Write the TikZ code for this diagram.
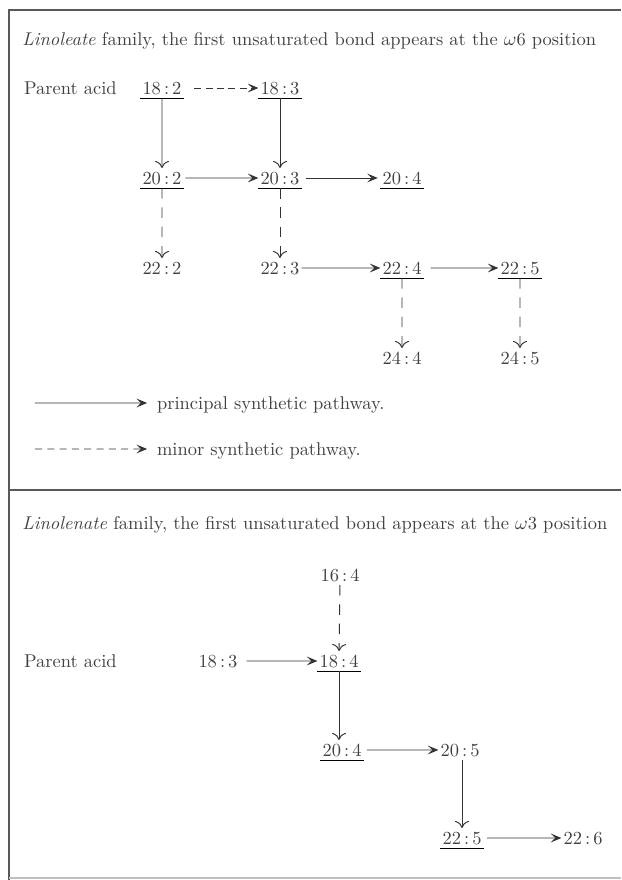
\documentclass[tikz,border=0pt]{standalone}
\usetikzlibrary{arrows.meta}
\begin{document}
\begin{tikzpicture}[scale=0.2,
	acid/.style={inner xsep=1pt, inner ysep=2pt, text height=7pt, text depth=0pt},
	under/.style={append after command={(\tikzlastnode.south west) edge [line width=0.5pt] (\tikzlastnode.south east)}},
	hmain/.style={draw=black!80, line width=0.55pt, -{Stealth[length=6pt,width=5pt,inset=2.5pt]}},
	hminor/.style={hmain, dash pattern=on 4pt off 2.5pt},
	vmain/.style={draw=black!80, line width=0.55pt, -{To[length=4pt,width=8pt]}},
	vminor/.style={vmain, dash pattern=on 6pt off 5pt}]
		\tikzstyle{every node}+=[inner sep=0pt, text=black!75, font=\fontsize{10.5}{12.6}\selectfont]
		\useasboundingbox (0,0) rectangle (62.1,-88);
		\draw [black!65, line width=0.8pt] (62.1,-1) -- (0.9,-1) -- (0.9,-88);
		\draw [black!65, line width=0.8pt] (0.9,-49) -- (62.1,-49);
		\draw [black!25, line width=0.6pt] (0.9,-87.8) -- (62.1,-87.8);
		\node [anchor=west] (head1) at (2.2,-4.1) {\textit{Linoleate} family, the first unsaturated bond appears at the $\omega$6 position};
		\node [acid, anchor=west] (parent1) at (2.2,-8.8) {Parent acid};
		\node [acid, under] (a182) at (16.2,-8.8) {18\,:\,2};
		\node [acid, under] (a183) at (28.0,-8.8) {18\,:\,3};
		\node [acid, under] (a202) at (16.2,-17.8) {20\,:\,2};
		\node [acid, under] (a203) at (28.0,-17.8) {20\,:\,3};
		\node [acid, under] (a204) at (40.2,-17.8) {20\,:\,4};
		\node [acid] (a222) at (16.2,-26.8) {22\,:\,2};
		\node [acid] (a223) at (28.0,-26.8) {22\,:\,3};
		\node [acid, under] (a224) at (40.2,-26.8) {22\,:\,4};
		\node [acid, under] (a225) at (52.0,-26.8) {22\,:\,5};
		\node [acid] (a244) at (40.2,-35.8) {24\,:\,4};
		\node [acid] (a245) at (52.0,-35.8) {24\,:\,5};
		\draw [hminor, shorten <=6pt] (a182) -- (a183);
		\draw [vmain] (a182) -- (a202);
		\draw [vmain] (a183) -- (a203);
		\draw [hmain, shorten <=1pt] (a202) -- (a203);
		\draw [hmain, shorten <=2.5pt, shorten >=1.5pt] (a203) -- (a204);
		\draw [vminor] (a202) -- (a222);
		\draw [vminor] (a203) -- (a223);
		\draw [hmain] (a223) -- (a224);
		\draw [hmain, shorten <=4pt] (a224) -- (a225);
		\draw [vminor] (a224) -- (a244);
		\draw [vminor] (a225) -- (a245);
		\coordinate (k1) at (3.5,-40.3);
		\coordinate (k2) at (3.5,-44.9);
		\node [acid, anchor=west] (key1) at (15.5,-40.3) {principal synthetic pathway.};
		\node [acid, anchor=west] (key2) at (15.5,-44.9) {minor synthetic pathway.};
		\draw [hmain, shorten >=4.5pt] (k1) -- (key1);
		\draw [hminor, dash pattern=on 4pt off 3pt, shorten >=4.5pt] (k2) -- (key2);
		\node [anchor=west] (head2) at (2.2,-52.5) {\textit{Linolenate} family, the first unsaturated bond appears at the $\omega$3 position};
		\node [acid] (b164) at (34.0,-57.5) {16\,:\,4};
		\node [acid, anchor=west] (parent2) at (2.2,-66.1) {Parent acid};
		\node [acid] (b183) at (21.8,-66.1) {18\,:\,3};
		\node [acid, under] (b184) at (33.9,-66.1) {18\,:\,4};
		\node [acid, under] (b204) at (34.2,-75.0) {20\,:\,4};
		\node [acid] (b205) at (46.0,-75.0) {20\,:\,5};
		\node [acid, under] (b225) at (46.2,-83.8) {22\,:\,5};
		\node [acid] (b226) at (58.3,-83.8) {22\,:\,6};
		\draw [vminor] (b164) -- (b184);
		\draw [hmain, shorten <=4pt] (b183) -- (b184);
		\draw [vmain] (b184.south) -- (b184.south |- b204.north);
		\draw [hmain, shorten <=2pt] (b204) -- (b205);
		\draw [vmain] (b205.south -| b225) -- (b225.north);
		\draw [hmain, shorten <=2pt] (b225) -- (b226);
	\end{tikzpicture}
\end{document}
